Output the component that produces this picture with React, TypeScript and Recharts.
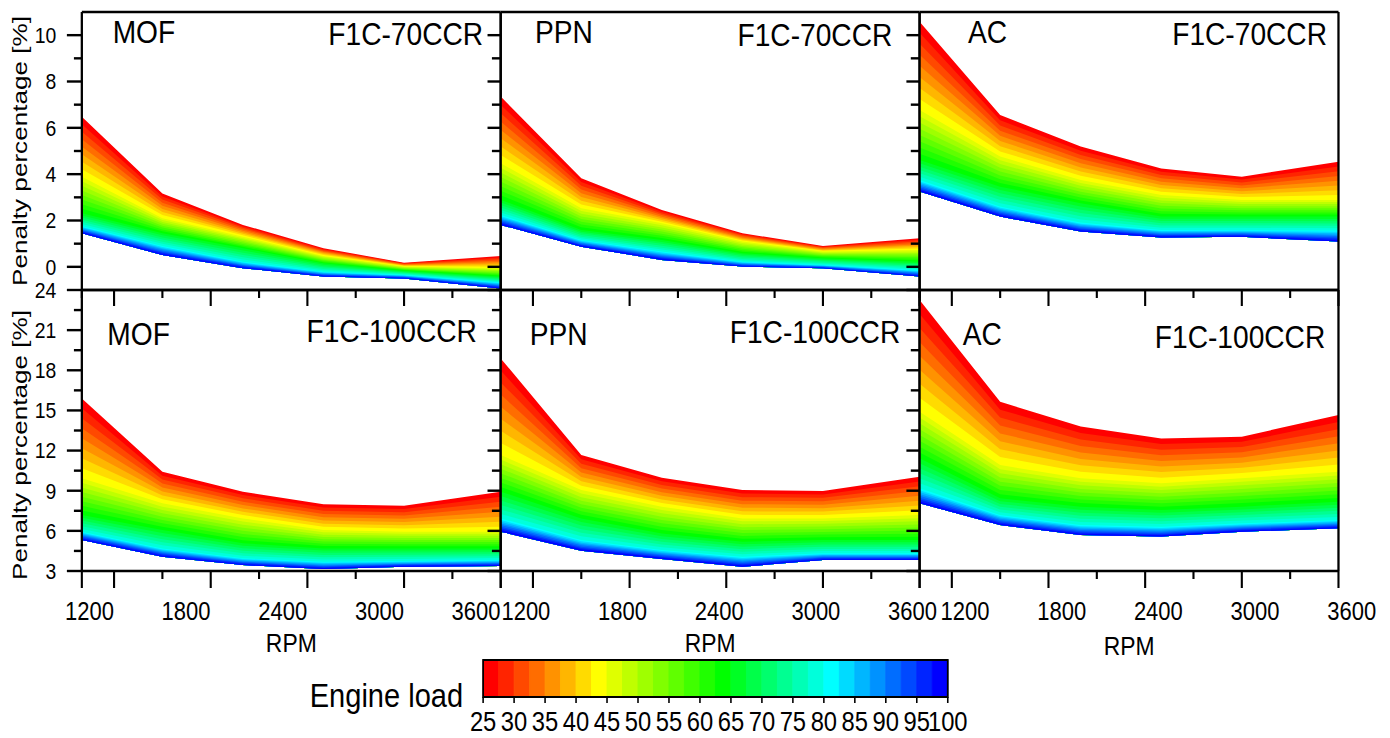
import React from 'react';
import { ComposedChart, Area, XAxis, YAxis, ReferenceArea } from 'recharts';

// ---------- data ----------
const RPM = [1000, 1500, 2000, 2500, 3000, 3600];
const LOAD_LEVELS = [25, 45, 65, 80, 100];

// MOF, F1C-70CCR
const MOF70_25 = [6.48, 3.17, 1.81, 0.8, 0.18, 0.47];
const MOF70_45 = [3.89, 2.1, 1.3, 0.47, 0.01, -0.06];
const MOF70_65 = [2.31, 1.45, 0.8, 0.15, -0.17, -0.42];
const MOF70_80 = [1.76, 0.9, 0.22, -0.21, -0.35, -0.68];
const MOF70_100 = [1.45, 0.51, -0.06, -0.42, -0.5, -0.93];
// PPN, F1C-70CCR
const PPN70_25 = [7.35, 3.82, 2.45, 1.45, 0.9, 1.23];
const PPN70_45 = [4.47, 2.53, 1.88, 1.09, 0.66, 0.73];
const PPN70_65 = [2.89, 1.59, 1.16, 0.59, 0.37, 0.22];
const PPN70_80 = [2.24, 1.16, 0.66, 0.22, 0.08, -0.14];
const PPN70_100 = [1.81, 0.87, 0.3, 0.01, -0.06, -0.42];
// AC, F1C-70CCR
const AC70_25 = [10.58, 6.55, 5.19, 4.25, 3.89, 4.54];
const AC70_45 = [6.77, 4.76, 3.75, 3.1, 2.89, 2.89];
const AC70_65 = [4.61, 3.46, 2.74, 2.17, 2.17, 2.17];
const AC70_80 = [3.75, 2.6, 1.91, 1.59, 1.59, 1.57];
const AC70_100 = [3.25, 2.17, 1.52, 1.27, 1.3, 1.09];
// MOF, F1C-100CCR
const MOF100_25 = [15.9, 10.42, 8.93, 7.98, 7.88, 8.93];
const MOF100_45 = [9.93, 8.06, 6.93, 6.06, 5.94, 5.94];
const MOF100_65 = [7.18, 6.06, 5.07, 4.69, 4.69, 4.69];
const MOF100_80 = [5.94, 4.69, 3.95, 3.69, 3.74, 3.82];
const MOF100_100 = [5.32, 4.07, 3.45, 3.15, 3.32, 3.37];
// PPN, F1C-100CCR
const PPN100_25 = [18.89, 11.67, 9.97, 9.05, 8.98, 10.05];
const PPN100_45 = [11.67, 9.05, 7.81, 6.93, 6.93, 7.18];
const PPN100_65 = [8.93, 6.93, 5.81, 5.19, 5.32, 5.32];
const PPN100_80 = [6.93, 5.32, 4.57, 4.07, 4.32, 4.32];
const PPN100_100 = [5.94, 4.52, 3.9, 3.32, 3.82, 3.82];
// AC, F1C-100CCR
const AC100_25 = [23.25, 15.65, 13.79, 12.91, 13.04, 14.66];
const AC100_45 = [14.91, 10.92, 9.93, 9.55, 9.93, 10.42];
const AC100_65 = [11.42, 8.43, 7.81, 7.56, 7.81, 8.18];
const AC100_80 = [9.18, 7.18, 6.44, 6.31, 6.56, 6.81];
const AC100_100 = [8.06, 6.44, 5.69, 5.57, 5.94, 6.19];

// tick labels
const X_MAJOR = [1200, 1800, 2400, 3000, 3600];
const X_MINOR = [1500, 2100, 2700, 3300];
const TOP_Y_MAJOR = [0, 2, 4, 6, 8, 10];
const TOP_Y_MINOR = [1, 3, 5, 7, 9];
const BOT_Y_MAJOR = [3, 6, 9, 12, 15, 18, 21, 24];
const BOT_Y_MINOR = [4.5, 7.5, 10.5, 13.5, 16.5, 19.5, 22.5];
const LOAD_TICKS = [25, 30, 35, 40, 45, 50, 55, 60, 65, 70, 75, 80, 85, 90, 95, 100];

// colour scale: 30 steps of 2.5 % load, 25 -> 100
const COLORS = [
  '#FF0000', '#FF2400', '#FF4900', '#FF6D00', '#FF9200', '#FFB600', '#FFDB00', '#FFFF00',
  '#DFFF00', '#BFFF00', '#9FFF00', '#80FF00', '#60FF00', '#40FF00', '#20FF00', '#00FF00',
  '#00FF24', '#00FF49', '#00FF6D', '#00FF92', '#00FFB6', '#00FFDB', '#00FFFF',
  '#00DBFF', '#00B6FF', '#0092FF', '#006DFF', '#0049FF', '#0024FF', '#0000FF',
];

// ---------- layout ----------
const S = 0.88; // the original figure is squeezed horizontally
const W = 1580;
const H = 738;
const FONT = '"Liberation Sans", Arial, sans-serif';
const COL_LEFT = [93, 569, 1045];
const PW = 476;
const ROW_TOP = [12, 290];
const ROW_H = [278, 281];
const M = 60;
const AX = { stroke: '#000', strokeWidth: 2.6 };
const TW = 2.4;

// contour bands between the read load-level curves
function bandRows(levels: number[][]) {
  return RPM.map((rpm, i) => {
    const row: any = { rpm };
    for (let j = 0; j < COLORS.length; j++) {
      const b = 25 + 2.5 * j;
      let k = 0;
      while (k < LOAD_LEVELS.length - 2 && b > LOAD_LEVELS[k + 1]) k++;
      const t = (b - LOAD_LEVELS[k]) / (LOAD_LEVELS[k + 1] - LOAD_LEVELS[k]);
      const p = levels[k][i] + t * (levels[k + 1][i] - levels[k][i]);
      row['b' + j] = [levels[LOAD_LEVELS.length - 1][i], p];
    }
    return row;
  });
}

const makeLeftTick = (majors: number[], showLabels: boolean) => (p: any) => {
  const v = p.payload.value;
  const major = majors.includes(v);
  return (
    <g>
      <line x1={p.x} x2={p.x - (major ? 17 : 9)} y1={p.y} y2={p.y} stroke="#000" strokeWidth={TW} />
      {showLabels && major ? (
        <text x={p.x - 29} y={p.y} dy="0.36em" textAnchor="end" fontSize={22} fontFamily={FONT} fill="#000">
          {v}
        </text>
      ) : null}
    </g>
  );
};

const makeRightTick = (majors: number[]) => (p: any) => {
  const v = p.payload.value;
  const major = majors.includes(v);
  return <line x1={p.x} x2={p.x - (major ? 15 : 10)} y1={p.y} y2={p.y} stroke="#000" strokeWidth={TW} />;
};

const makeBottomTick = (dx: number) => (p: any) => {
  const v = p.payload.value;
  const major = v === 1000 || X_MAJOR.includes(v);
  return (
    <g>
      <line x1={p.x} x2={p.x} y1={p.y} y2={p.y + (major ? 17 : 8)} stroke="#000" strokeWidth={TW} />
      {X_MAJOR.includes(v) ? (
        <text x={p.x + dx} y={p.y + 40} dy="0.36em" textAnchor="middle" fontSize={25} fontFamily={FONT} fill="#000">
          {v}
        </text>
      ) : null}
    </g>
  );
};

const topTick = (p: any) => {
  const v = p.payload.value;
  const major = X_MAJOR.includes(v);
  return <line x1={p.x} x2={p.x} y1={p.y} y2={p.y + (major ? 16 : 8)} stroke="#000" strokeWidth={TW} />;
};

type PanelProps = {
  levels: number[][];
  col: number;
  row: number;
};

function Panel({ levels, col, row }: PanelProps) {
  const data = bandRows(levels);
  const left = COL_LEFT[col];
  const top = ROW_TOP[row];
  const h = ROW_H[row];
  const domain = row === 0 ? [-1, 11] : [3, 24];
  const majors = row === 0 ? TOP_Y_MAJOR : BOT_Y_MAJOR;
  const yTicks = row === 0 ? [...TOP_Y_MAJOR, ...TOP_Y_MINOR].sort((a, b) => a - b) : [...BOT_Y_MAJOR, ...BOT_Y_MINOR].sort((a, b) => a - b);
  const xTicks = [1000, ...X_MAJOR, ...X_MINOR].sort((a, b) => a - b);
  const labelDx = [-28, -8, 15][col];
  const bottomRow = row === 1;
  return (
    <div style={{ position: 'absolute', left: left - M - 1, top: top - M - 1 }}>
      <ComposedChart width={PW + 2 * M + 2} height={h + 2 * M + 2} margin={{ top: M, right: M, bottom: M, left: M }} data={data}>
        {COLORS.map((c, j) => (
          <Area
            key={j}
            xAxisId="b"
            yAxisId="l"
            type="linear"
            dataKey={'b' + j}
            fill={c}
            fillOpacity={1}
            stroke="none"
            dot={false}
            activeDot={false}
            isAnimationActive={false}
          />
        ))}
        <XAxis
          xAxisId="b"
          type="number"
          dataKey="rpm"
          domain={[1000, 3600]}
          allowDataOverflow
          ticks={xTicks}
          interval={0}
          height={1}
          tickSize={0}
          tickMargin={0}
          axisLine={AX}
          tickLine={false}
          tick={bottomRow ? makeBottomTick(labelDx) : false}
        />
        <XAxis
          xAxisId="t"
          orientation="top"
          type="number"
          dataKey="rpm"
          domain={[1000, 3600]}
          allowDataOverflow
          ticks={xTicks}
          interval={0}
          height={1}
          tickSize={0}
          tickMargin={0}
          axisLine={AX}
          tickLine={false}
          tick={bottomRow ? topTick : false}
        />
        <YAxis
          yAxisId="l"
          type="number"
          domain={domain}
          allowDataOverflow
          ticks={yTicks}
          interval={0}
          width={1}
          tickSize={0}
          tickMargin={0}
          axisLine={AX}
          tickLine={false}
          tick={col === 0 ? makeLeftTick(majors, true) : false}
        />
        <YAxis
          yAxisId="r"
          orientation="right"
          type="number"
          domain={domain}
          allowDataOverflow
          ticks={yTicks}
          interval={0}
          width={1}
          tickSize={0}
          tickMargin={0}
          axisLine={AX}
          tickLine={false}
          tick={col < 2 ? makeRightTick(majors) : false}
        />
      </ComposedChart>
    </div>
  );
}

const CB_LEFT = 549;
const CB_TOP = 660;
const CB_W = 528;
const CB_H = 37;
const CB_CELLS = COLORS.map((c, i) => ({ from: 25 + 2.5 * i, to: 27.5 + 2.5 * i, load: 26.25 + 2.5 * i, v: 0.5, color: c }));

const cbTick = (p: any) => (
  <g>
    <line x1={p.x} x2={p.x} y1={p.y} y2={p.y + 6} stroke="#000" strokeWidth={1.8} />
    <text x={p.x} y={p.y + 24} dy="0.36em" textAnchor="middle" fontSize={27} fontFamily={FONT} fill="#000">
      {p.payload.value}
    </text>
  </g>
);

function ColorBar() {
  return (
    <div style={{ position: 'absolute', left: CB_LEFT - M, top: CB_TOP - M }}>
      <ComposedChart width={CB_W + 2 * M} height={CB_H + 2 * M + 1} margin={{ top: M, right: M, bottom: M, left: M }} data={CB_CELLS}>
        <XAxis
          type="number"
          dataKey="load"
          domain={[25, 100]}
          allowDataOverflow
          ticks={LOAD_TICKS}
          interval={0}
          height={1}
          tickSize={0}
          tickMargin={0}
          axisLine={false}
          tickLine={false}
          tick={cbTick}
        />
        <YAxis type="number" domain={[0, 1]} allowDataOverflow hide />
        {CB_CELLS.map((c, i) => (
          <ReferenceArea key={i} x1={c.from} x2={c.to} y1={0} y2={1} fill={c.color} fillOpacity={1} stroke={c.color} strokeWidth={1} ifOverflow="visible" />
        ))}
        <ReferenceArea x1={25} x2={100} y1={0} y2={1} fill="none" fillOpacity={0} stroke="#000" strokeWidth={2} ifOverflow="visible" />
      </ComposedChart>
    </div>
  );
}

const TITLES = [
  { t: 'MOF', x: 128, y: 43, a: 'start' },
  { t: 'F1C-70CCR', x: 549, y: 45, a: 'end' },
  { t: 'PPN', x: 608, y: 43, a: 'start' },
  { t: 'F1C-70CCR', x: 1014, y: 46, a: 'end' },
  { t: 'AC', x: 1100, y: 43, a: 'start' },
  { t: 'F1C-70CCR', x: 1508, y: 45, a: 'end' },
  { t: 'MOF', x: 122, y: 345, a: 'start' },
  { t: 'F1C-100CCR', x: 542, y: 342, a: 'end' },
  { t: 'PPN', x: 602, y: 345, a: 'start' },
  { t: 'F1C-100CCR', x: 1023, y: 343, a: 'end' },
  { t: 'AC', x: 1094, y: 345, a: 'start' },
  { t: 'F1C-100CCR', x: 1506, y: 348, a: 'end' },
];

export default function App() {
  const panels = [
    { levels: [MOF70_25, MOF70_45, MOF70_65, MOF70_80, MOF70_100], col: 0, row: 0 },
    { levels: [PPN70_25, PPN70_45, PPN70_65, PPN70_80, PPN70_100], col: 1, row: 0 },
    { levels: [AC70_25, AC70_45, AC70_65, AC70_80, AC70_100], col: 2, row: 0 },
    { levels: [MOF100_25, MOF100_45, MOF100_65, MOF100_80, MOF100_100], col: 0, row: 1 },
    { levels: [PPN100_25, PPN100_45, PPN100_65, PPN100_80, PPN100_100], col: 1, row: 1 },
    { levels: [AC100_25, AC100_45, AC100_65, AC100_80, AC100_100], col: 2, row: 1 },
  ];
  return (
    <div style={{ position: 'absolute', left: 0, top: 0, width: 1390, height: 738, overflow: 'hidden', background: '#fff' }}>
      <style>{`.recharts-surface{overflow:visible}`}</style>
      <div
        style={{
          position: 'absolute',
          left: 0,
          top: 0,
          width: W,
          height: H,
          transform: `scaleX(${S})`,
          transformOrigin: '0 0',
          fontFamily: FONT,
        }}
      >
        {panels.map((p, i) => (
          <Panel key={i} levels={p.levels} col={p.col} row={p.row} />
        ))}
        <ColorBar />
        <svg width={W} height={H} style={{ position: 'absolute', left: 0, top: 0, pointerEvents: 'none' }}>
          {TITLES.map((t, i) => (
            <text key={i} x={t.x} y={t.y} textAnchor={t.a as any} fontSize={32} fontFamily={FONT} fill="#000">
              {t.t}
            </text>
          ))}
          <text x={31} y={151} transform="rotate(-90 31 151)" textAnchor="middle" fontSize={24} fontFamily={FONT} fill="#000" textLength={270} lengthAdjust="spacingAndGlyphs">
            Penalty percentage [%]
          </text>
          <text x={31} y={445} transform="rotate(-90 31 445)" textAnchor="middle" fontSize={24} fontFamily={FONT} fill="#000" textLength={270} lengthAdjust="spacingAndGlyphs">
            Penalty percentage [%]
          </text>
          {[331, 807, 1283].map((x, i) => (
            <text key={i} x={x} y={i === 2 ? 655 : 652} textAnchor="middle" fontSize={26} fontFamily={FONT} fill="#000">
              RPM
            </text>
          ))}
          <text x={352} y={707} textAnchor="start" fontSize={33} fontFamily={FONT} fill="#000">
            Engine load
          </text>
        </svg>
      </div>
    </div>
  );
}
